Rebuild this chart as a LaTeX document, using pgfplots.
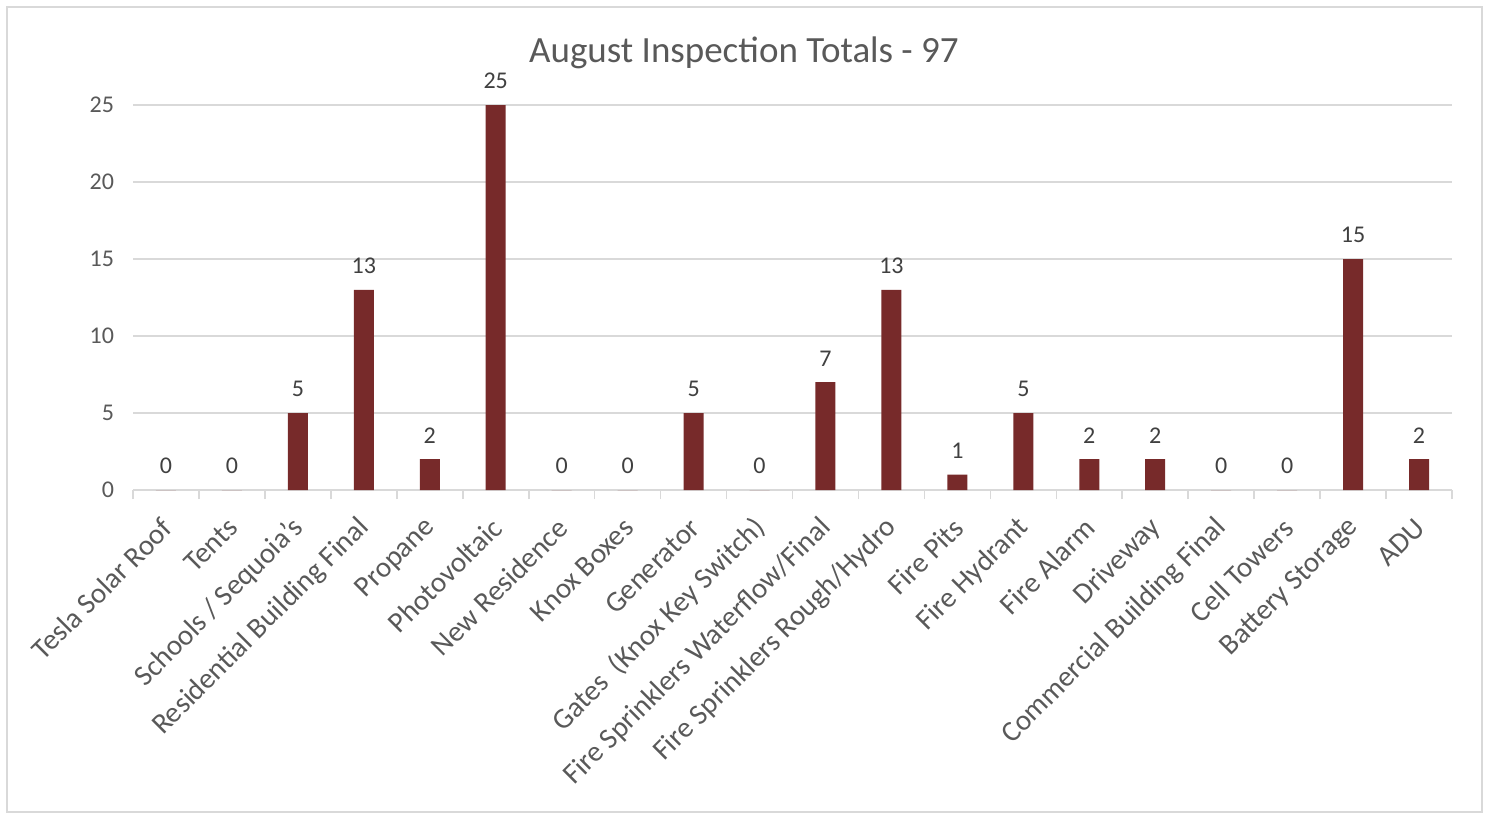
\documentclass[border=0pt]{standalone}
\usepackage{pgfplots}
\pgfplotsset{compat=1.18}
\usepackage{fontspec}
\setmainfont{Carlito}
\definecolor{barred}{HTML}{772A2A}
\definecolor{txt}{HTML}{595959}
\definecolor{lbl}{HTML}{404040}
\definecolor{grid}{HTML}{D9D9D9}
\begin{document}
\begin{tikzpicture}
\path[use as bounding box] (0pt,0pt) rectangle (745.5pt,407pt);
\draw[color=grid, line width=0.8pt] (3.5pt,1pt) rectangle (741pt,403.5pt);
\node[text=txt, font=\fontsize{18.5}{22}\selectfont] at (372pt,380.5pt) {August Inspection Totals - 97};
\begin{axis}[
  at={(66.5pt,162pt)}, anchor=south west,
  scale only axis, width=659.5pt, height=192.5pt,
  xmin=-0.5, xmax=19.5, ymin=0, ymax=25,
  clip=false,
  axis x line*=bottom, axis y line*=left,
  y axis line style={draw=none},
  x axis line style={draw=grid, line width=0.8pt, -},
  ytick={0,5,10,15,20,25},
  ymajorgrids, grid style={draw=grid, line width=0.8pt},
  major tick length=0pt,
  xtick={0,...,19},
  minor xtick={-0.5,0.5,...,19.5},
  minor tick length=4.5pt,
  tick align=outside,
  minor tick style={draw=grid, line width=0.8pt},
  xticklabels={Tesla Solar Roof,Tents,Schools / Sequoia's,Residential Building Final,Propane,Photovoltaic,New Residence,Knox Boxes,Generator,{Gates\ \ (Knox Key Switch)},Fire Sprinklers Waterflow/Final,Fire Sprinklers Rough/Hydro,Fire Pits,Fire Hydrant,Fire Alarm,Driveway,Commercial Building Final,Cell Towers,Battery Storage,ADU},
  xticklabel style={rotate=45, anchor=east, text=txt, font=\fontsize{14.5}{16}\selectfont, inner sep=1pt, xshift=-10.25pt, yshift=-12.15pt},
  yticklabel style={text=txt, font=\fontsize{12}{14}\selectfont, xshift=-6pt},
  /pgf/number format/assume math mode=true,
  ybar, bar width=10pt,
  nodes near coords,
  every node near coord/.append style={text=lbl, font=\fontsize{12}{14}\selectfont, yshift=4.5pt},
]
\addplot[fill=barred, draw=none] coordinates {
(0,0) (1,0) (2,5) (3,13) (4,2) (5,25) (6,0) (7,0) (8,5) (9,0)
(10,7) (11,13) (12,1) (13,5) (14,2) (15,2) (16,0) (17,0) (18,15) (19,2)};
\end{axis}
\end{tikzpicture}
\end{document}
